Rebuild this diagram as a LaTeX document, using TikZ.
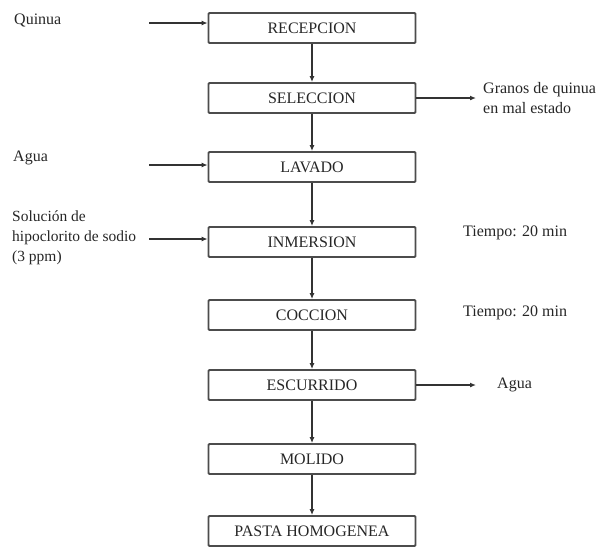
\documentclass[tikz,border=0pt]{standalone}
\usepackage{fontspec}
\setmainfont{Liberation Serif}
\usetikzlibrary{arrows.meta}
\begin{document}
\begin{tikzpicture}[x=1pt,y=-1pt,
  every node/.style={font=\fontsize{16}{20}\selectfont, text=black!85},
  stepbox/.style={draw=black!70, line width=1.8pt, rounded corners=1pt,
    minimum width=207pt, minimum height=30pt, inner sep=0pt},
  flow/.style={draw=black!80, line width=1.3pt, -{Latex[length=6pt,width=5pt]}},
  sidetext/.style={anchor=west, inner sep=0pt, align=left}]
\useasboundingbox (0,0) rectangle (603,547);

% process steps
\node[stepbox] (rec) at (312,28)  {RECEPCION};
\node[stepbox] (sel) at (312,98)  {SELECCION};
\node[stepbox] (lav) at (312,167) {LAVADO};
\node[stepbox] (inm) at (312,242) {INMERSION};
\node[stepbox] (coc) at (312,315) {COCCION};
\node[stepbox] (esc) at (312,385) {ESCURRIDO};
\node[stepbox] (mol) at (312,459) {MOLIDO};
\node[stepbox] (pas) at (312,531) {PASTA HOMOGENEA};

% main line
\foreach \a/\b in {rec/sel, sel/lav, lav/inm, inm/coc, coc/esc, esc/mol, mol/pas}
  \draw[flow] (\a.south) -- (\b.north);

% inputs
\node[sidetext] (tq) at (14,20) {Quinua};
\node[sidetext] (ta) at (13,158) {Agua};
\node[sidetext, font=\fontsize{15.5}{20}\selectfont] (ts) at (12,238)
  {Solución de\\hipoclorito de sodio\\(3 ppm)};
\coordinate (iq) at (149,23);
\coordinate (ia) at (149,165);
\coordinate (is) at (149,239);
\draw[flow] (iq) -- (iq -| rec.west);
\draw[flow] (ia) -- (ia -| lav.west);
\draw[flow] (is) -- (is -| inm.west);

% outputs
\coordinate (os) at (476,98);
\coordinate (oe) at (476,385);
\draw[flow] (sel.east) -- (os);
\draw[flow] (esc.east) -- (oe);
\node[sidetext] (tg) at (483,98) {Granos de quinua\\en mal estado};
\node[sidetext] (tw) at (497,385) {Agua};

% conditions
\node[sidetext] (t1) at (463,233) {Tiempo: 20 min};
\node[sidetext] (t2) at (463,313) {Tiempo: 20 min};
\end{tikzpicture}
\end{document}
